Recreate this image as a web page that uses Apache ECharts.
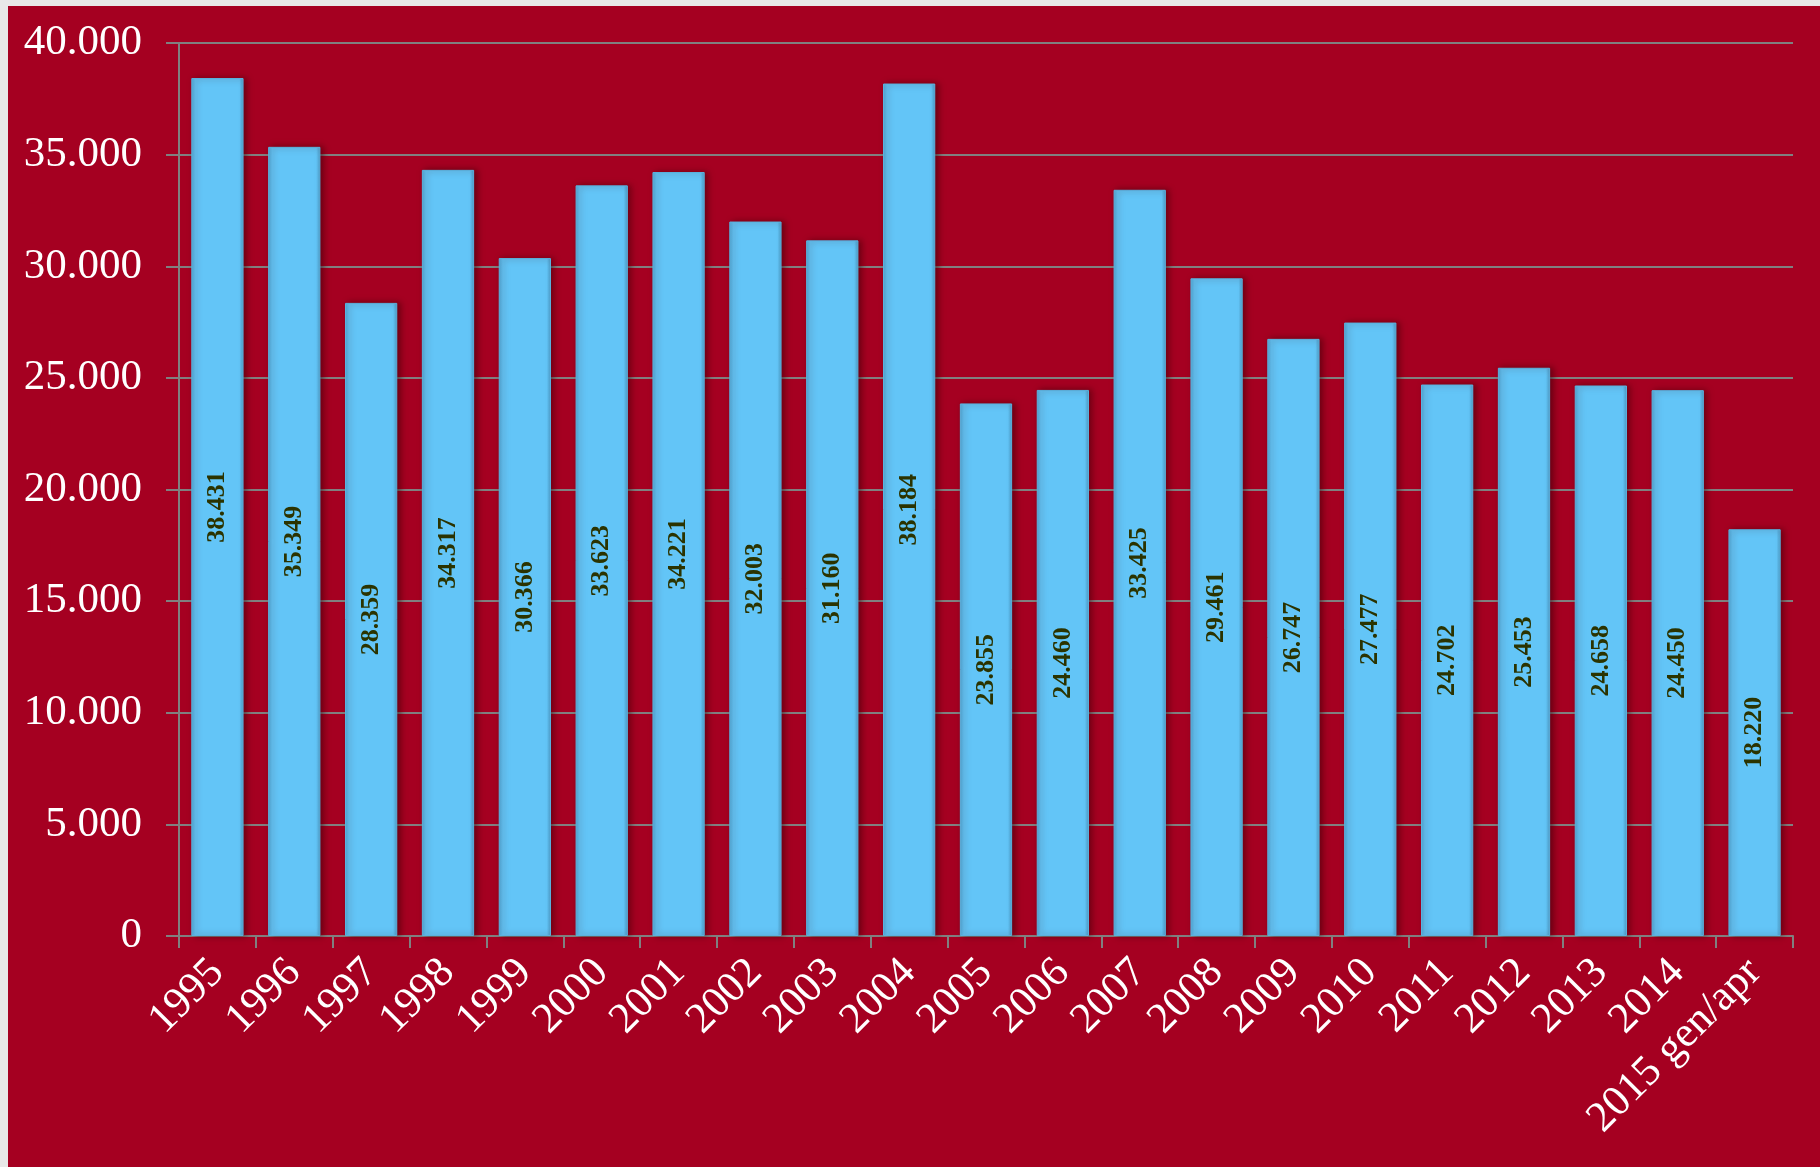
<!DOCTYPE html>
<html>
<head>
<meta charset="utf-8">
<script src="https://cdn.jsdelivr.net/npm/echarts@6/dist/echarts.min.js"></script>
<style>
html,body{margin:0;padding:0;background:#E8E8E8;}
#frame{position:absolute;left:8px;top:6px;right:0;bottom:0;background:#A50021;}
#chart{position:absolute;left:0;top:0;width:1820px;height:1167px;}
</style>
</head>
<body>
<div id="frame"></div>
<div id="chart"></div>
<script>
const categories = ['1995','1996','1997','1998','1999','2000','2001','2002','2003','2004','2005','2006','2007','2008','2009','2010','2011','2012','2013','2014','2015 gen/apr'];
const values = [38431,35349,28359,34317,30366,33623,34221,32003,31160,38184,23855,24460,33425,29461,26747,27477,24702,25453,24658,24450,18220];
const yTicks = {min:0, max:40000, interval:5000};

function fmt(v){ return String(v).replace(/\B(?=(\d{3})+(?!\d))/g,'.'); }

const chart = echarts.init(document.getElementById('chart'), null, {renderer:'canvas'});
chart.setOption({
  backgroundColor:'transparent',
  animation:false,
  grid:{left:179,right:27,top:43,bottom:231,containLabel:false},
  xAxis:{
    type:'category',
    data:categories,
    boundaryGap:true,
    axisLine:{show:true,lineStyle:{color:'#808080',width:2}},
    axisTick:{show:true,length:12,alignWithLabel:false,lineStyle:{color:'#808080',width:2}},
    axisLabel:{rotate:45,margin:30,color:'#FFFFFF',fontFamily:'Liberation Serif',fontSize:43,interval:0}
  },
  yAxis:{
    type:'value',
    min:yTicks.min,max:yTicks.max,interval:yTicks.interval,
    axisLine:{show:true,lineStyle:{color:'#808080',width:2}},
    axisTick:{show:true,length:13,lineStyle:{color:'#808080',width:2}},
    splitLine:{show:true,lineStyle:{color:'#808080',width:2}},
    axisLabel:{margin:37,color:'#FFFFFF',fontFamily:'Liberation Serif',fontSize:43,formatter:fmt}
  },
  series:[{
    type:'bar',
    data:values,
    barWidth:'68%',
    itemStyle:{
      color:{type:'linear',x:0,y:0,x2:1,y2:0,colorStops:[
        {offset:0,color:'#4FA6D4'},{offset:0.08,color:'#63C5F7'},
        {offset:0.92,color:'#63C5F7'},{offset:1,color:'#4B9CC8'}]},
      borderColor:'#5AB2DE',borderWidth:1,
      shadowColor:'rgba(60,0,10,0.55)',shadowBlur:6,shadowOffsetX:3,shadowOffsetY:0
    },
    label:{
      show:true,position:'inside',rotate:90,
      color:'#2B3300',fontFamily:'Liberation Serif',fontWeight:'bold',fontSize:26,
      formatter:p=>fmt(p.value)
    }
  }]
});
</script>
</body>
</html>
